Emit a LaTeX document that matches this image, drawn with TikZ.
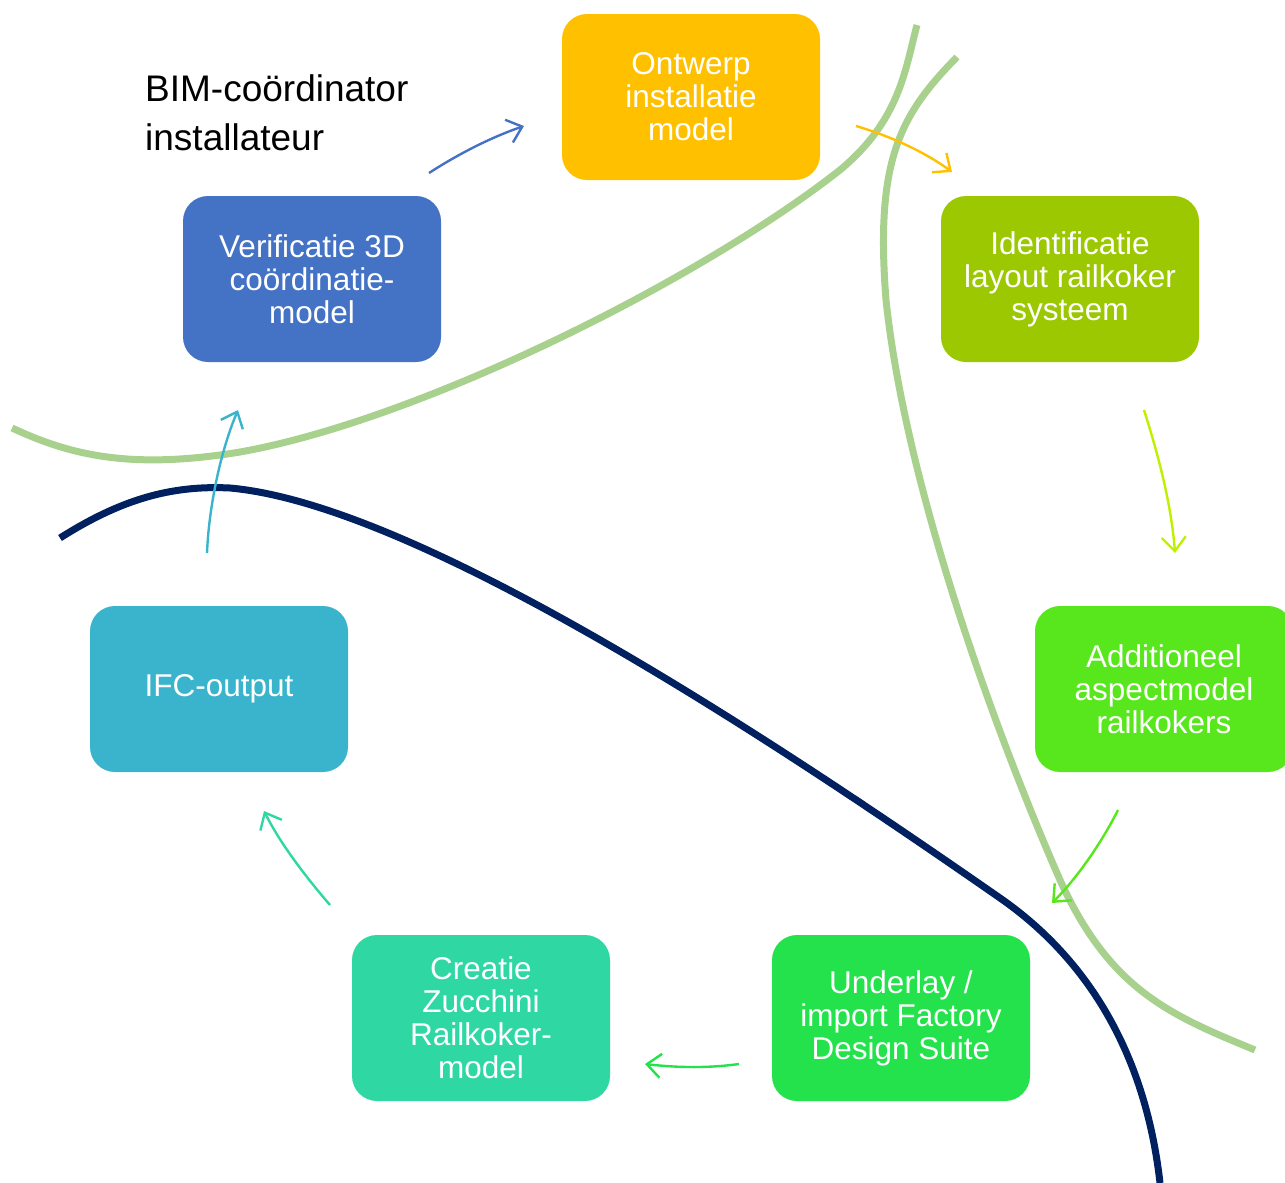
\documentclass[tikz,border=0pt]{standalone}
\usepackage{fontspec}
\setmainfont{Liberation Sans}
\usetikzlibrary{arrows.meta}
\definecolor{cOntw}{HTML}{FFC000}
\definecolor{cVerif}{HTML}{4472C4}
\definecolor{cIdent}{HTML}{9BC800}
\definecolor{cAdd}{HTML}{58E61C}
\definecolor{cUnder}{HTML}{23E24B}
\definecolor{cCreat}{HTML}{2FD8A2}
\definecolor{cIfc}{HTML}{3AB4CC}
\definecolor{cLime}{HTML}{BEF000}
\definecolor{cSoft}{HTML}{A9D18E}
\definecolor{cNavy}{HTML}{002060}
\begin{document}
\begin{tikzpicture}[x=1pt,y=-1pt,
  box/.style={rounded corners=25pt, minimum width=258pt, minimum height=166pt,
    inner sep=0pt, text=white, align=center, font=\fontsize{31.5}{33}\selectfont},
  flow/.style={line width=2.4pt, -{Straight Barb[length=14pt,width=24pt]}},
  border/.style={line width=7pt, cSoft},
  navyline/.style={line width=7pt, cNavy}]
\useasboundingbox (0,0) rectangle (1285,1183);
\clip (0,0) rectangle (1285,1183);
% boundary curves
\draw[border] (12,428) .. controls (70,455) and (130,470) .. (240,452)
  .. controls (420,420) and (700,280) .. (840,170)
  .. controls (900,120) and (905,70) .. (917,25);
\draw[border] (957,57) .. controls (900,115) and (875,160) .. (886,300)
  .. controls (905,480) and (990,720) .. (1060,880)
  .. controls (1110,990) and (1170,1015) .. (1255,1050);
\draw[navyline] (60,538) .. controls (120,500) and (170,485) .. (230,488)
  .. controls (420,505) and (780,745) .. (1000,898)
  .. controls (1085,957) and (1145,1050) .. (1160,1183);
% boxes
\node[box, fill=cOntw]  (ontw)  at (691,97)   {Ontwerp\\installatie\\model};
\node[box, fill=cVerif] (verif) at (312,279)  {Verificatie 3D\\coördinatie-\\model};
\node[box, fill=cIdent] (ident) at (1070,279) {Identificatie\\layout railkoker\\systeem};
\node[box, fill=cAdd]   (add)   at (1164,689) {Additioneel\\aspectmodel\\railkokers};
\node[box, fill=cUnder] (under) at (901,1018) {Underlay /\\import Factory\\Design Suite};
\node[box, fill=cCreat] (creat) at (481,1018) {Creatie\\Zucchini\\Railkoker-\\model};
\node[box, fill=cIfc]   (ifc)   at (219,689)  {IFC-output};
\node[anchor=north west, inner sep=0pt, align=left, font=\fontsize{37}{49}\selectfont]
  (role) at (145,74) {BIM-coördinator\\installateur};
% arrow end points
\coordinate (a1s) at (429,173); \coordinate (a1e) at (524,126);
\coordinate (a2s) at (856,126); \coordinate (a2e) at (952,172);
\coordinate (a3s) at (1144,410); \coordinate (a3e) at (1175,553);
\coordinate (a4s) at (1118,810); \coordinate (a4e) at (1052,903);
\coordinate (a5s) at (739,1064); \coordinate (a5e) at (645,1064);
\coordinate (a6s) at (330,905); \coordinate (a6e) at (264,811);
\coordinate (a7s) at (207,553); \coordinate (a7e) at (238,410);
% arrows
\draw[flow, cVerif] (a1s) .. controls (460,153) and (492,137) .. (a1e);
\draw[flow, cOntw]  (a2s) .. controls (890,136) and (925,152) .. (a2e);
\draw[flow, cLime]  (a3s) .. controls (1156,448) and (1171,500) .. (a3e);
\draw[flow, cAdd]   (a4s) .. controls (1104,838) and (1080,875) .. (a4e);
\draw[flow, cUnder] (a5s) .. controls (710,1068) and (680,1068) .. (a5e);
\draw[flow, cCreat] (a6s) .. controls (305,876) and (280,843) .. (a6e);
\draw[flow, cIfc]   (a7s) .. controls (209,505) and (221,450) .. (a7e);
\end{tikzpicture}
\end{document}
